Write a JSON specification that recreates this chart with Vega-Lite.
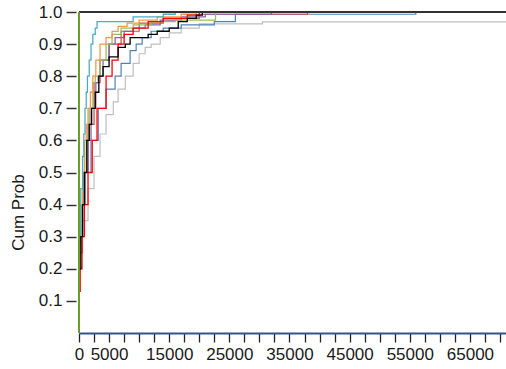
{
  "$schema": "https://vega.github.io/schema/vega-lite/v6.json",
  "width": 427,
  "height": 321,
  "autosize": {"type": "none"},
  "padding": {"left": 79, "top": 12, "right": 0, "bottom": 36},
  "background": "white",
  "config": {"view": {"stroke": null}, "font": "Liberation Sans"},
  "data": {"values": [
    {"s":"A","x":0,"p":0.25},{"s":"A","x":600,"p":0.35},{"s":"A","x":1500,"p":0.45},{"s":"A","x":2500,"p":0.55},{"s":"A","x":3500,"p":0.62},{"s":"A","x":4500,"p":0.68},{"s":"A","x":5700,"p":0.72},{"s":"A","x":6500,"p":0.76},{"s":"A","x":7700,"p":0.8},{"s":"A","x":9000,"p":0.84},{"s":"A","x":10000,"p":0.87},{"s":"A","x":11000,"p":0.89},{"s":"A","x":12000,"p":0.9},{"s":"A","x":13500,"p":0.92},{"s":"A","x":15000,"p":0.935},{"s":"A","x":17000,"p":0.95},{"s":"A","x":20000,"p":0.963},{"s":"A","x":30500,"p":0.969},{"s":"A","x":75000,"p":1.0},
    {"s":"B","x":0,"p":0.25},{"s":"B","x":400,"p":0.4},{"s":"B","x":1000,"p":0.5},{"s":"B","x":2000,"p":0.6},{"s":"B","x":3200,"p":0.7},{"s":"B","x":4500,"p":0.76},{"s":"B","x":6000,"p":0.8},{"s":"B","x":7000,"p":0.84},{"s":"B","x":8500,"p":0.88},{"s":"B","x":9500,"p":0.9},{"s":"B","x":10500,"p":0.92},{"s":"B","x":12000,"p":0.94},{"s":"B","x":14000,"p":0.95},{"s":"B","x":17000,"p":0.96},{"s":"B","x":22500,"p":0.97},{"s":"B","x":26000,"p":0.993},{"s":"B","x":56000,"p":1.0},
    {"s":"C","x":0,"p":0.3},{"s":"C","x":600,"p":0.5},{"s":"C","x":1500,"p":0.65},{"s":"C","x":2500,"p":0.78},{"s":"C","x":3500,"p":0.85},{"s":"C","x":5000,"p":0.9},{"s":"C","x":7000,"p":0.94},{"s":"C","x":10000,"p":0.965},{"s":"C","x":14000,"p":0.98},{"s":"C","x":20000,"p":0.993},{"s":"C","x":38000,"p":1.0},
    {"s":"D","x":0,"p":0.25},{"s":"D","x":500,"p":0.4},{"s":"D","x":1000,"p":0.5},{"s":"D","x":1500,"p":0.6},{"s":"D","x":2000,"p":0.7},{"s":"D","x":2800,"p":0.78},{"s":"D","x":3200,"p":0.8},{"s":"D","x":4000,"p":0.85},{"s":"D","x":5000,"p":0.9},{"s":"D","x":6000,"p":0.92},{"s":"D","x":7500,"p":0.94},{"s":"D","x":9000,"p":0.95},{"s":"D","x":11000,"p":0.96},{"s":"D","x":13500,"p":0.975},{"s":"D","x":17000,"p":0.985},{"s":"D","x":21000,"p":0.993},{"s":"D","x":32000,"p":1.0},
    {"s":"E","x":0,"p":0.25},{"s":"E","x":400,"p":0.4},{"s":"E","x":800,"p":0.5},{"s":"E","x":1200,"p":0.6},{"s":"E","x":1700,"p":0.7},{"s":"E","x":2300,"p":0.78},{"s":"E","x":2700,"p":0.8},{"s":"E","x":3500,"p":0.85},{"s":"E","x":4500,"p":0.9},{"s":"E","x":5500,"p":0.93},{"s":"E","x":7000,"p":0.95},{"s":"E","x":9000,"p":0.96},{"s":"E","x":12000,"p":0.97},{"s":"E","x":16000,"p":0.975},{"s":"E","x":22700,"p":1.0},
    {"s":"F","x":0,"p":0.3},{"s":"F","x":300,"p":0.4},{"s":"F","x":600,"p":0.5},{"s":"F","x":900,"p":0.6},{"s":"F","x":1200,"p":0.65},{"s":"F","x":1500,"p":0.7},{"s":"F","x":1900,"p":0.75},{"s":"F","x":2300,"p":0.8},{"s":"F","x":2800,"p":0.85},{"s":"F","x":3500,"p":0.9},{"s":"F","x":4500,"p":0.92},{"s":"F","x":5500,"p":0.94},{"s":"F","x":6500,"p":0.955},{"s":"F","x":8000,"p":0.965},{"s":"F","x":10000,"p":0.975},{"s":"F","x":13000,"p":0.985},{"s":"F","x":17000,"p":0.993},{"s":"F","x":19500,"p":1.0},
    {"s":"G","x":0,"p":0.28},{"s":"G","x":300,"p":0.45},{"s":"G","x":600,"p":0.55},{"s":"G","x":800,"p":0.62},{"s":"G","x":1000,"p":0.7},{"s":"G","x":1200,"p":0.75},{"s":"G","x":1400,"p":0.8},{"s":"G","x":1700,"p":0.85},{"s":"G","x":2000,"p":0.9},{"s":"G","x":2300,"p":0.93},{"s":"G","x":2700,"p":0.95},{"s":"G","x":3000,"p":0.97},{"s":"G","x":9000,"p":0.985},{"s":"G","x":14000,"p":0.993},{"s":"G","x":16000,"p":1.0},
    {"s":"H","x":0,"p":0.13},{"s":"H","x":200,"p":0.2},{"s":"H","x":500,"p":0.3},{"s":"H","x":900,"p":0.4},{"s":"H","x":1500,"p":0.5},{"s":"H","x":2200,"p":0.6},{"s":"H","x":3000,"p":0.7},{"s":"H","x":4500,"p":0.8},{"s":"H","x":5500,"p":0.85},{"s":"H","x":6500,"p":0.9},{"s":"H","x":7500,"p":0.93},{"s":"H","x":9000,"p":0.95},{"s":"H","x":11500,"p":0.97},{"s":"H","x":14000,"p":0.98},{"s":"H","x":18000,"p":0.99},{"s":"H","x":20000,"p":1.0},
    {"s":"I","x":0,"p":0.2},{"s":"I","x":300,"p":0.3},{"s":"I","x":600,"p":0.4},{"s":"I","x":900,"p":0.5},{"s":"I","x":1300,"p":0.6},{"s":"I","x":1700,"p":0.65},{"s":"I","x":2100,"p":0.7},{"s":"I","x":2700,"p":0.75},{"s":"I","x":3300,"p":0.8},{"s":"I","x":4000,"p":0.83},{"s":"I","x":5000,"p":0.86},{"s":"I","x":6500,"p":0.89},{"s":"I","x":7700,"p":0.9},{"s":"I","x":8500,"p":0.92},{"s":"I","x":11500,"p":0.93},{"s":"I","x":13000,"p":0.94},{"s":"I","x":15000,"p":0.95},{"s":"I","x":16500,"p":0.97},{"s":"I","x":18000,"p":0.98},{"s":"I","x":19500,"p":0.99},{"s":"I","x":20500,"p":1.0}
  ]},
  "layer": [
    {
      "mark": {"type": "line", "interpolate": "step-after", "clip": true},
      "encoding": {
        "x": {"field": "x", "type": "quantitative",
          "scale": {"domain": [0, 71000], "nice": false, "zero": false},
          "axis": {
            "title": null,
            "values": [0,2500,5000,7500,10000,12500,15000,17500,20000,22500,25000,27500,30000,32500,35000,37500,40000,42500,45000,47500,50000,52500,55000,57500,60000,62500,65000,67500,70000],
            "tickCount": 200,
            "labelExpr": "datum.value == 0 || datum.value % 10000 == 5000 ? format(datum.value, 'd') : ''",
            "labelOverlap": false,
            "labelFlush": false,
            "grid": false,
            "domainColor": "#34548C", "domainWidth": 2,
            "tickColor": "#222", "tickSize": 9, "tickWidth": 1.3,
            "labelFontSize": 17, "labelColor": "#1a1a1a", "labelPadding": 4
          }
        },
        "y": {"field": "p", "type": "quantitative",
          "scale": {"domain": [0, 1], "nice": false},
          "axis": {
            "title": "Cum Prob",
            "titleFontSize": 17, "titleFontWeight": "normal", "titleColor": "#1a1a1a",
            "titleX": -58, "titleY": 200, "titleAngle": -90, "titleAlign": "center", "titleBaseline": "middle",
            "values": [0.1,0.2,0.3,0.4,0.5,0.6,0.7,0.8,0.9,1.0],
            "tickCount": 200,
            "labelOverlap": false,
            "format": ".1f",
            "grid": false, "domain": false, "offset": 3,
            "tickColor": "#333", "tickSize": 10, "tickWidth": 1.5,
            "labelFontSize": 17, "labelColor": "#1a1a1a", "labelPadding": 4
          }
        },
        "color": {"field": "s", "type": "nominal", "legend": null,
          "scale": {"domain": ["A","B","C","D","E","F","G","H","I"],
            "range": ["#BFBFBF","#4F81BD","#C0504D","#8064A2","#9BBB59","#F79646","#4BACC6","#FF0000","#000000"]}},
        "strokeWidth": {"field": "s", "type": "nominal", "legend": null,
          "scale": {"domain": ["A","B","C","D","E","F","G","H","I"],
            "range": [1.2,1.3,1.3,1.3,1.3,1.3,1.3,2,2]}}
      }
    },
    {
      "mark": {"type": "rule", "color": "#333", "strokeWidth": 1.5},
      "encoding": {"y": {"datum": 1}}
    },
    {
      "mark": {"type": "rule", "color": "#6E9A2E", "strokeWidth": 2},
      "encoding": {"x": {"datum": 0}}
    }
  ]
}
